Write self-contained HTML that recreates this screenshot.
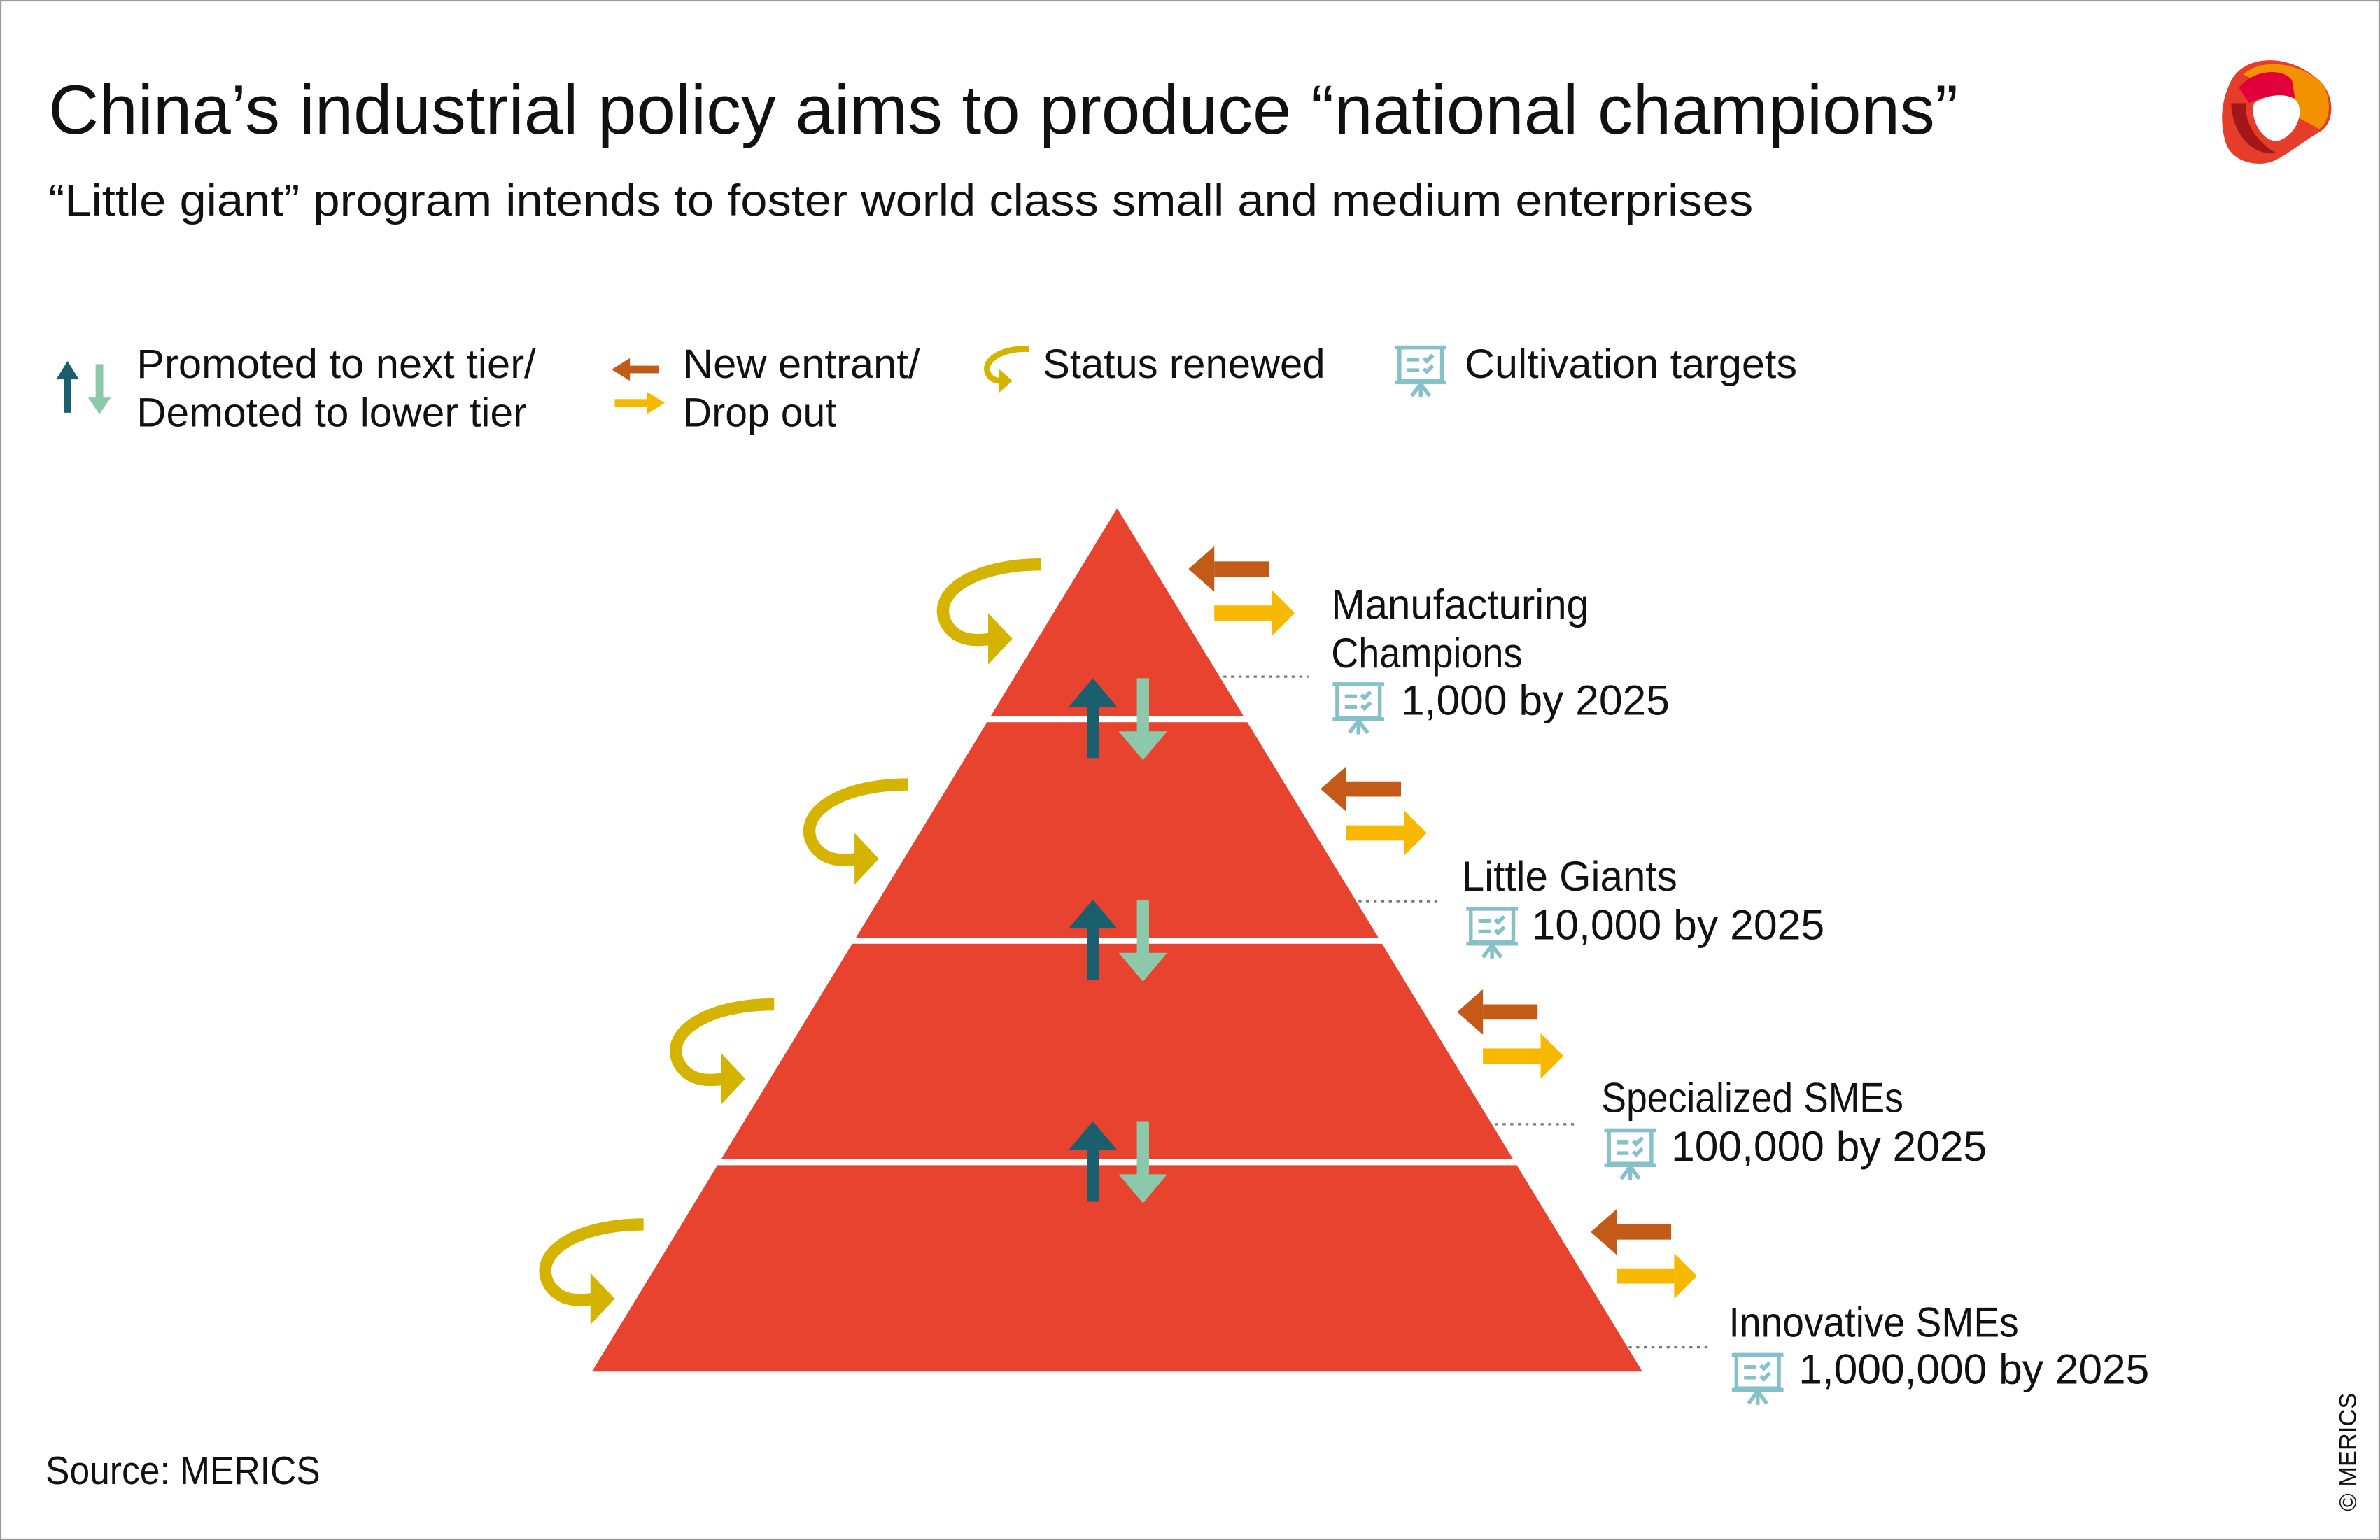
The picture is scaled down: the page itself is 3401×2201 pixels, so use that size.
<!DOCTYPE html>
<html><head><meta charset="utf-8"><style>html,body{margin:0;padding:0;background:#fff}svg{display:block}text{font-family:"Liberation Sans Narrow","Liberation Sans",sans-serif;fill:#111}</style></head><body>
<svg width="3401" height="2201" viewBox="0 0 1568 1015" preserveAspectRatio="none" xmlns="http://www.w3.org/2000/svg">
<defs>
<g id="curl"><path d="M686,372 C640,372 612,392 624,412 C632,424 645,422 654,421" fill="none" stroke="#d4b400" stroke-width="8"/><polygon points="651,404 667,421 651,438" fill="#d4b400"/></g>
<g id="io"><rect x="800" y="370" width="36" height="10" fill="#c35a17"/><polygon points="783,375 800,360 800,390" fill="#c35a17"/><rect x="800" y="399" width="38" height="10" fill="#f9b800"/><polygon points="853,404 838,389 838,419" fill="#f9b800"/></g>
<g id="ud"><rect x="716" y="462" width="8" height="38" fill="#1a5f6e"/><polygon points="720,447 704,466 736,466" fill="#1a5f6e"/><rect x="749" y="447" width="8" height="38" fill="#8cc9ab"/><polygon points="753,501 737,482 769,482" fill="#8cc9ab"/></g>
<g id="tgt" fill="none" stroke="#86c0c9" stroke-width="2.5"><line x1="0" y1="1" x2="34" y2="1"/><rect x="3" y="1" width="28" height="22"/><line x1="0" y1="24" x2="34" y2="24"/><line x1="17" y1="24" x2="17" y2="34"/><line x1="17" y1="25" x2="11" y2="33"/><line x1="17" y1="25" x2="23" y2="33"/><line x1="8" y1="9" x2="16" y2="9"/><line x1="8" y1="16" x2="16" y2="16"/><path d="M19,8 l2,2 l4,-4 M19,15 l2,2 l4,-4"/></g>
</defs>
<rect x="0.5" y="0.5" width="1567" height="1014" fill="#fff" stroke="#9a9a9a"/>
<text x="32" y="88" font-size="46" textLength="1258" lengthAdjust="spacingAndGlyphs">China’s industrial policy aims to produce “national champions”</text>
<text x="32" y="142" font-size="29" textLength="1123" lengthAdjust="spacingAndGlyphs">“Little giant” program intends to foster world class small and medium enterprises</text>
<g transform="translate(1500,73)">
<path d="M-30,-20 C-20,-38 10,-38 30,-18 C40,-5 36,10 28,14 C15,22 5,30 0,32 C-10,38 -30,35 -34,20 C-38,5 -36,-8 -30,-20Z" fill="#e63c2a"/>
<path d="M-22,-24 C-10,-35 15,-32 30,-18 C36,-8 36,6 28,12 L15,5 C10,-10 -5,-15 -22,-24Z" fill="#f39200"/>
<path d="M-25,-15 C-15,-28 5,-28 10,-20 L12,-8 C5,-12 -10,-10 -18,-5Z" fill="#e2003c"/>
<path d="M-30,-5 C-30,10 -20,30 0,28 C-15,20 -22,5 -20,-5Z" fill="#a3161a"/>
<path d="M-15,-5 C-5,-12 10,-12 14,-5 C18,5 10,18 0,20 C-10,20 -18,5 -15,-5Z" fill="#fff"/>
</g>
<rect x="42" y="248" width="5" height="24" fill="#1a5f6e"/><polygon points="44.5,238 37,250 52,250" fill="#1a5f6e"/>
<rect x="63" y="240" width="5" height="24" fill="#8cc9ab"/><polygon points="65.5,273 58,262 73,262" fill="#8cc9ab"/>
<text x="90" y="249" font-size="27" textLength="263" lengthAdjust="spacingAndGlyphs">Promoted to next tier/</text>
<text x="90" y="281" font-size="27" textLength="257" lengthAdjust="spacingAndGlyphs">Demoted to lower tier</text>
<rect x="414" y="241" width="20" height="5" fill="#c35a17"/><polygon points="403,243.5 415,236 415,251" fill="#c35a17"/>
<rect x="405" y="263" width="21" height="5" fill="#f9b800"/><polygon points="438,265.5 426,258 426,273" fill="#f9b800"/>
<text x="450" y="249" font-size="27" textLength="156" lengthAdjust="spacingAndGlyphs">New entrant/</text>
<text x="450" y="281" font-size="27" textLength="101" lengthAdjust="spacingAndGlyphs">Drop out</text>
<path d="M678,230 C660,229 645,238 652,248 C655,251 658,251 660,251" fill="none" stroke="#d4b400" stroke-width="4"/><polygon points="658,243 667,251 658,259" fill="#d4b400"/>
<text x="687" y="249" font-size="27" textLength="186" lengthAdjust="spacingAndGlyphs">Status renewed</text>
<use href="#tgt" transform="translate(919,228)"/>
<text x="965" y="249" font-size="27" textLength="219" lengthAdjust="spacingAndGlyphs">Cultivation targets</text>
<polygon points="736,335 1082,904 390,904" fill="#e8432e"/>
<rect x="380" y="472" width="720" height="4" fill="#fff"/>
<rect x="380" y="618" width="720" height="4" fill="#fff"/>
<rect x="380" y="764" width="720" height="4" fill="#fff"/>
<use href="#curl"/><use href="#curl" transform="translate(-88,145)"/><use href="#curl" transform="translate(-176,290)"/><use href="#curl" transform="translate(-262,435)"/>
<use href="#io"/><use href="#io" transform="translate(87,145)"/><use href="#io" transform="translate(177,292)"/><use href="#io" transform="translate(265,437)"/>
<use href="#ud"/><use href="#ud" transform="translate(0,146)"/><use href="#ud" transform="translate(0,292)"/>
<g stroke="#777" stroke-width="1.5" stroke-dasharray="2,3">
<line x1="806" y1="446" x2="862" y2="446"/><line x1="895" y1="594" x2="948" y2="594"/><line x1="985" y1="741" x2="1040" y2="741"/><line x1="1073" y1="888" x2="1126" y2="888"/></g>
<text x="877" y="408" font-size="28" textLength="170" lengthAdjust="spacingAndGlyphs">Manufacturing</text>
<text x="877" y="440" font-size="28" textLength="126" lengthAdjust="spacingAndGlyphs">Champions</text>
<use href="#tgt" transform="translate(878,450)"/>
<text x="923" y="471" font-size="28" textLength="177" lengthAdjust="spacingAndGlyphs">1,000 by 2025</text>
<text x="963" y="587" font-size="28" textLength="142" lengthAdjust="spacingAndGlyphs">Little Giants</text>
<use href="#tgt" transform="translate(966,598)"/>
<text x="1009" y="619" font-size="28" textLength="193" lengthAdjust="spacingAndGlyphs">10,000 by 2025</text>
<text x="1055" y="733" font-size="28" textLength="199" lengthAdjust="spacingAndGlyphs">Specialized SMEs</text>
<use href="#tgt" transform="translate(1057,744)"/>
<text x="1101" y="765" font-size="28" textLength="208" lengthAdjust="spacingAndGlyphs">100,000 by 2025</text>
<text x="1139" y="881" font-size="28" textLength="191" lengthAdjust="spacingAndGlyphs">Innovative SMEs</text>
<use href="#tgt" transform="translate(1141,892)"/>
<text x="1185" y="912" font-size="28" textLength="231" lengthAdjust="spacingAndGlyphs">1,000,000 by 2025</text>
<text x="30" y="978" font-size="26" textLength="181" lengthAdjust="spacingAndGlyphs">Source: MERICS</text>
<text transform="translate(1552,996) rotate(-90)" font-size="16" textLength="78" lengthAdjust="spacingAndGlyphs">© MERICS</text>
</svg>
</body></html>
